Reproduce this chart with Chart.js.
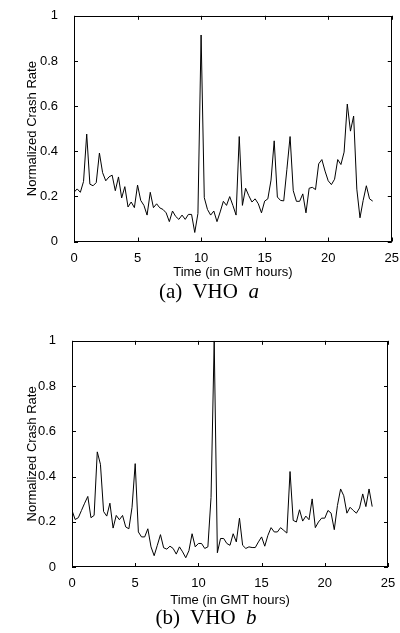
<!DOCTYPE html>
<html><head><meta charset="utf-8">
<script src="https://cdn.jsdelivr.net/npm/chart.js@4/dist/chart.umd.min.js"></script>
<style>
html,body{margin:0;padding:0;background:#fff;}
body{width:400px;height:633px;position:relative;overflow:hidden;}
canvas{position:absolute;left:0;}
.cap{position:absolute;width:400px;text-align:center;font-family:"Liberation Serif","DejaVu Serif",serif;font-size:21px;color:#000;line-height:1;white-space:pre;}
</style></head><body>
<canvas id="ca" width="400" height="285" style="top:0px"></canvas>
<div class="cap" style="top:281px;left:9px">(a)  VHO  <i>a</i></div>
<canvas id="cb" width="400" height="285" style="top:325px"></canvas>
<div class="cap" style="top:607px;left:6px">(b)  VHO  <i>b</i></div>
<script>
// ---- data ----
const hours = [
 0,0.25,0.5,0.75, 1,1.25,1.5,1.75, 2,2.25,2.5,2.75, 3,3.25,3.5,3.75,
 4,4.25,4.5,4.75, 5,5.25,5.5,5.75, 6,6.25,6.5,6.75, 7,7.25,7.5,7.75,
 8,8.25,8.5,8.75, 9,9.25,9.5,9.75, 10,10.25,10.5,10.75, 11,11.25,11.5,11.75,
 12,12.25,12.5,12.75, 13,13.25,13.5,13.75, 14,14.25,14.5,14.75, 15,15.25,15.5,15.75,
 16,16.25,16.5,16.75, 17,17.25,17.5,17.75, 18,18.25,18.5,18.75, 19,19.25,19.5,19.75,
 20,20.25,20.5,20.75, 21,21.25,21.5,21.75, 22,22.25,22.5,22.75, 23,23.25,23.5,23.75
];
const crashA = [
 0.218,0.233,0.218,0.266, 0.476,0.254,0.247,0.261, 0.392,0.305,0.269,0.286,
 0.294,0.225,0.286,0.193, 0.243,0.153,0.175,0.150, 0.250,0.182,0.160,0.117,
 0.218,0.150,0.167,0.149, 0.142,0.127,0.088,0.135, 0.111,0.098,0.117,0.098,
 0.120,0.120,0.040,0.124, 0.915,0.194,0.142,0.117, 0.135,0.088,0.131,0.178,
 0.160,0.199,0.160,0.117, 0.465,0.160,0.236,0.203, 0.175,0.189,0.167,0.127,
 0.179,0.189,0.272,0.446, 0.197,0.182,0.180,0.320, 0.465,0.225,0.178,0.178,
 0.211,0.127,0.236,0.240, 0.230,0.344,0.363,0.312, 0.269,0.252,0.276,0.363,
 0.341,0.396,0.609,0.489, 0.556,0.232,0.105,0.182, 0.247,0.189,0.179
];
const crashB = [
 0.250,0.210,0.218,0.250, 0.282,0.312,0.218,0.228, 0.509,0.454,0.245,0.225,
 0.282,0.172,0.228,0.209, 0.228,0.177,0.169,0.264, 0.457,0.155,0.133,0.133,
 0.169,0.089,0.050,0.096, 0.143,0.085,0.079,0.092, 0.082,0.057,0.089,0.067,
 0.041,0.072,0.147,0.089, 0.104,0.104,0.082,0.089, 0.308,1.000,0.063,0.126,
 0.126,0.104,0.096,0.147, 0.111,0.216,0.096,0.082, 0.089,0.086,0.086,0.111,
 0.133,0.092,0.140,0.174, 0.155,0.155,0.174,0.162, 0.150,0.422,0.206,0.199,
 0.253,0.203,0.225,0.209, 0.301,0.174,0.199,0.216, 0.216,0.250,0.238,0.165,
 0.272,0.345,0.315,0.238, 0.264,0.250,0.238,0.261, 0.323,0.267,0.345,0.267
];
const xTitle = 'Time (in GMT hours)';
const yTitle = 'Normalized Crash Rate';
const xMin = 0, xMax = 25, xStep = 5;
const yMin = 0, yMax = 1, yStep = 0.2;

// ---- drawing ----
const FONT = "'Liberation Sans', Arial, sans-serif";
const innerTicks = {
  id: 'innerTicks',
  afterDatasetsDraw(chart) {
    const {ctx, chartArea: a, scales: {x, y}} = chart;
    const L = 4;
    ctx.save();
    ctx.strokeStyle = '#000';
    ctx.lineWidth = 1;
    ctx.beginPath();
    x.ticks.forEach(t => {
      const px = Math.round(x.getPixelForValue(t.value)) + 0.5;
      ctx.moveTo(px, a.bottom); ctx.lineTo(px, a.bottom - L);
      ctx.moveTo(px, a.top); ctx.lineTo(px, a.top + L);
    });
    y.ticks.forEach(t => {
      const py = Math.round(y.getPixelForValue(t.value)) + 0.5;
      ctx.moveTo(a.left, py); ctx.lineTo(a.left + L, py);
      ctx.moveTo(a.right, py); ctx.lineTo(a.right - L, py);
    });
    ctx.stroke();
    ctx.strokeRect(Math.round(a.left) + 0.5, Math.round(a.top) + 0.5,
                   Math.round(a.right - a.left) - 1, Math.round(a.bottom - a.top) - 1);
    ctx.restore();
  }
};

function makeChart(id, values, geo) {
  const pts = values.map((v, i) => ({x: hours[i], y: v}));
  return new Chart(document.getElementById(id), {
    type: 'line',
    data: {datasets: [{data: pts, borderColor: '#000', borderWidth: 1, pointRadius: 0, tension: 0, fill: false}]},
    plugins: [innerTicks],
    options: {
      responsive: false, animation: false, devicePixelRatio: 1,
      layout: {padding: {top: geo.top, right: geo.right, left: 0, bottom: 0}},
      plugins: {legend: {display: false}, tooltip: {enabled: false}},
      scales: {
        x: {
          type: 'linear', min: xMin, max: xMax,
          grid: {display: false}, border: {display: false},
          ticks: {stepSize: xStep, color: '#000', font: {family: FONT, size: 13}, padding: geo.xpad, maxRotation: 0},
          title: {display: true, text: xTitle, color: '#000', font: {family: FONT, size: 13}, padding: {top: 0, bottom: geo.xtpad}},
          afterFit(s) { s.height = geo.xh; }
        },
        y: {
          type: 'linear', min: yMin, max: yMax,
          grid: {display: false}, border: {display: false},
          ticks: {stepSize: yStep, color: '#000', font: {family: FONT, size: 13}, padding: 8,
                  callback: v => String(Math.round(v * 10) / 10)},
          title: {display: true, text: yTitle, color: '#000', font: {family: FONT, size: 13}, padding: {top: 25, bottom: 0}},
          afterFit(s) { s.width = geo.left; }
        }
      }
    }
  });
}

makeChart('ca', crashA, {top: 13, right: 8, left: 74, xh: 285 - 241.5, xpad: 1, xtpad: 5});
makeChart('cb', crashB, {top: 13.5, right: 12, left: 72, xh: 285 - 242, xpad: 1, xtpad: 2});
</script>
</body></html>
